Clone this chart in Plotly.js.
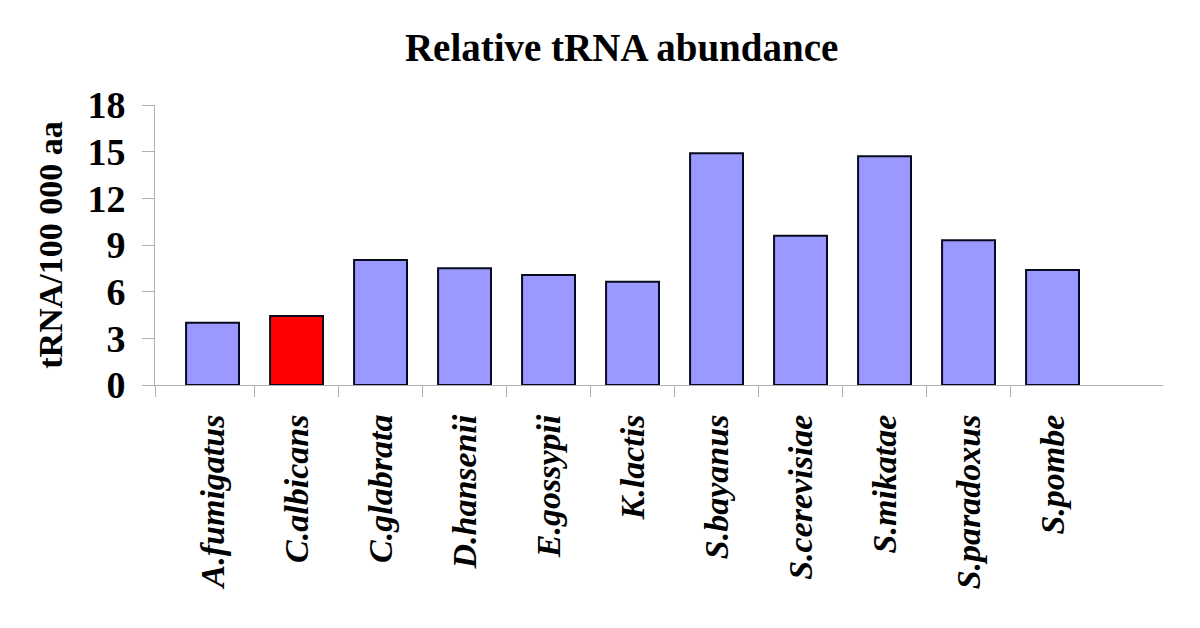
<!DOCTYPE html>
<html>
<head>
<meta charset="utf-8">
<script src="https://cdn.plot.ly/plotly-3.0.1.min.js"></script>
<style>html,body{margin:0;padding:0;background:#fff;}#chart{width:1200px;height:628px;}</style>
</head>
<body>
<div id="chart"></div>
<script>
var species = ["A.fumigatus","C.albicans","C.glabrata","D.hansenii","E.gossypii","K.lactis","S.bayanus","S.cerevisiae","S.mikatae","S.paradoxus","S.pombe"];
var abundance = [4.0, 4.44, 8.04, 7.5, 7.07, 6.64, 14.9, 9.6, 14.7, 9.3, 7.39];
var highlight = "C.albicans";
var yTicks = [0, 3, 6, 9, 12, 15, 18];

var baseColor = "#9999FF";
var hiColor = "#FF0000";
var colors = species.map(function(s){ return s === highlight ? hiColor : baseColor; });

var xRange = [-0.685, 11.315];
var boundaryTicks = [xRange[0]];
for (var i = 0; i < species.length - 1; i++) boundaryTicks.push(i + 0.5);

var serif = "Liberation Serif, Times New Roman, serif";

var trace = {
  type: "bar",
  x: species,
  y: abundance,
  width: 0.63,
  marker: {color: colors, line: {color: "#0a0a1e", width: 2}},
  hoverinfo: "x+y"
};
var tickTrace = {
  type: "scatter", mode: "markers", x: [0], y: [0], xaxis: "x2", yaxis: "y",
  marker: {opacity: 0}, showlegend: false, hoverinfo: "skip"
};

var layout = {
  width: 1200, height: 628,
  margin: {l: 155, r: 37, t: 105, b: 243},
  paper_bgcolor: "#fff", plot_bgcolor: "#fff",
  showlegend: false,
  title: {
    text: "Relative tRNA abundance",
    font: {family: serif, size: 39, color: "#000", weight: "bold"},
    x: 0.518, xref: "container", xanchor: "center",
    y: 0.925, yref: "container", yanchor: "middle"
  },
  xaxis: {
    type: "category",
    range: xRange,
    categoryorder: "array", categoryarray: species,
    showline: true, linecolor: "#b0b0b0", linewidth: 1,
    showgrid: false, zeroline: false,
    ticks: "",
    tickangle: -90,
    ticklabelstandoff: 15,
    tickfont: {family: serif, size: 34, color: "#000", weight: "bold", style: "italic"}
  },
  xaxis2: {
    overlaying: "x", anchor: "y", side: "bottom",
    range: xRange,
    tickmode: "array", tickvals: boundaryTicks,
    showticklabels: false,
    ticks: "outside", ticklen: 11, tickcolor: "#b0b0b0", tickwidth: 1,
    showline: false, showgrid: false, zeroline: false
  },
  yaxis: {
    range: [0, 18],
    tickmode: "array", tickvals: yTicks,
    ticks: "outside", ticklen: 12, tickcolor: "#b0b0b0", tickwidth: 1,
    showline: true, linecolor: "#b0b0b0", linewidth: 1,
    showgrid: false, zeroline: false,
    ticklabelstandoff: 9,
    tickfont: {family: serif, size: 38, color: "#000", weight: "bold"},
    title: {
      text: "tRNA/100 000 aa",
      font: {family: serif, size: 34, color: "#000", weight: "bold"},
      standoff: 14
    }
  },
  bargap: 0.37
};

Plotly.newPlot("chart", [trace, tickTrace], layout, {displayModeBar: false, staticPlot: true});
</script>
</body>
</html>
